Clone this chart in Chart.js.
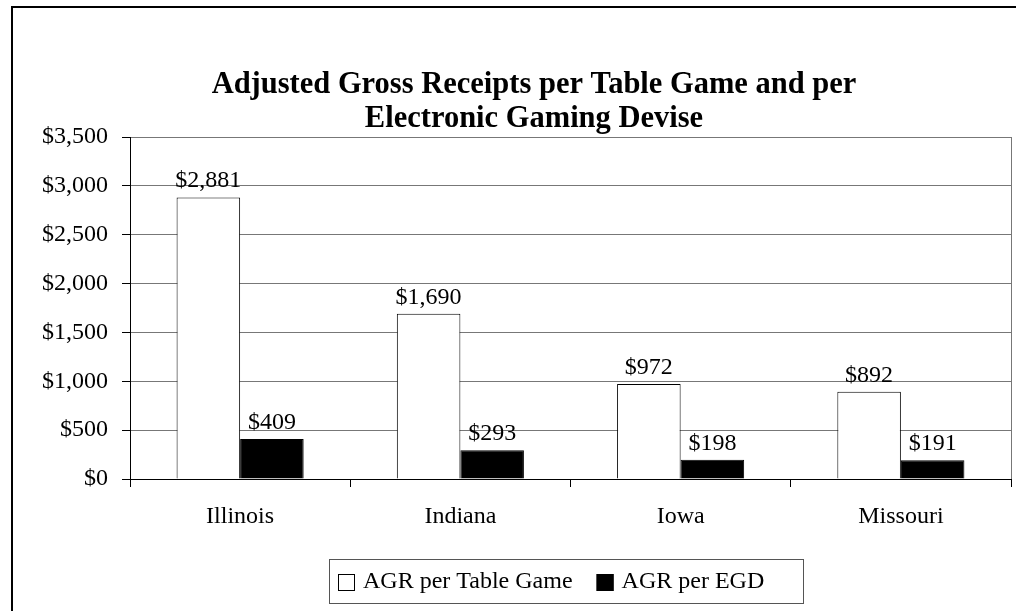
<!DOCTYPE html>
<html>
<head>
<meta charset="utf-8">
<script src="https://cdn.jsdelivr.net/npm/chart.js@4.4.1/dist/chart.umd.min.js"></script>
<style>
  html, body { margin: 0; padding: 0; background: #fff; }
  canvas { display: block; }
</style>
</head>
<body>
<canvas id="agrChart" width="1016" height="611"></canvas>
<script>
const states = ["Illinois", "Indiana", "Iowa", "Missouri"];
const perTableGame = [2881, 1690, 972, 892];
const perEGD = [409, 293, 198, 191];
const seriesNames = ["AGR per Table Game", "AGR per EGD"];
const titleLines = ["Adjusted Gross Receipts per Table Game and per", "Electronic Gaming Devise"];

const serif = "'Liberation Serif', 'Times New Roman', serif";

function money(v) {
  return "$" + v.toLocaleString("en-US");
}

const decorPlugin = {
  id: "decor",
  beforeDraw(chart) {
    const ctx = chart.ctx;
    ctx.save();
    ctx.fillStyle = "#fff";
    ctx.fillRect(0, 0, chart.width, chart.height);
    // outer frame
    ctx.strokeStyle = "#000";
    ctx.lineWidth = 2;
    ctx.strokeRect(12, 7, 1100, 700);
    ctx.restore();
  },
  afterDraw(chart) {
    const ctx = chart.ctx;
    const area = chart.chartArea;
    ctx.save();

    // right edge of plot area
    ctx.strokeStyle = "#777";
    ctx.lineWidth = 1;
    ctx.beginPath();
    ctx.moveTo(area.right + 0.5, area.top);
    ctx.lineTo(area.right + 0.5, area.bottom);
    ctx.stroke();

    // title
    ctx.fillStyle = "#000";
    ctx.font = "bold 30.5px " + serif;
    ctx.textAlign = "center";
    ctx.textBaseline = "middle";
    ctx.fillText(titleLines[0], 534, 85);
    ctx.fillText(titleLines[1], 534, 119);

    // value labels
    ctx.font = "24px " + serif;
    ctx.textBaseline = "alphabetic";
    chart.data.datasets.forEach((ds, i) => {
      const meta = chart.getDatasetMeta(i);
      meta.data.forEach((bar, j) => {
        ctx.fillText(money(ds.data[j]), bar.x, bar.y - 10);
      });
    });

    // legend box
    const box = { x: 329, y: 559, w: 474, h: 44 };
    ctx.strokeStyle = "#555";
    ctx.lineWidth = 1;
    ctx.strokeRect(box.x + 0.5, box.y + 0.5, box.w, box.h);
    ctx.font = "24px " + serif;
    ctx.textAlign = "left";
    ctx.textBaseline = "middle";
    const cy = box.y + box.h / 2 + 1;
    let x = box.x + 9;
    chart.data.datasets.forEach((ds, i) => {
      ctx.fillStyle = ds.backgroundColor;
      ctx.fillRect(x, cy - 8, 17, 17);
      ctx.strokeStyle = "#000";
      ctx.strokeRect(x + 0.5, cy - 7.5, 16, 16);
      ctx.fillStyle = "#000";
      ctx.fillText(ds.label, x + 25, cy);
      x += 25 + ctx.measureText(ds.label).width + 24;
    });

    ctx.restore();
  }
};

const chart = new Chart(document.getElementById("agrChart"), {
  type: "bar",
  data: {
    labels: states,
    datasets: [
      {
        label: seriesNames[0],
        data: perTableGame,
        backgroundColor: "#ffffff",
        borderColor: "#000000",
        borderWidth: 1,
      },
      {
        label: seriesNames[1],
        data: perEGD,
        backgroundColor: "#000000",
        borderColor: "#000000",
        borderWidth: 1,
      },
    ],
  },
  options: {
    responsive: false,
    animation: false,
    layout: {
      padding: { top: 137, right: 5, bottom: 72, left: 0 },
    },
    datasets: {
      bar: {
        barPercentage: 1,
        categoryPercentage: 0.577,
      },
    },
    plugins: {
      legend: { display: false },
      title: { display: false },
      tooltip: { enabled: false },
    },
    scales: {
      x: {
        offset: true,
        afterFit(scale) {
          scale.height = 60;
        },
        grid: {
          offset: true,
          drawOnChartArea: false,
          tickLength: 8,
          color: "#000",
        },
        border: { color: "#000", width: 1 },
        ticks: {
          color: "#000",
          padding: 15,
          font: { family: serif, size: 24 },
        },
      },
      y: {
        min: 0,
        max: 3500,
        afterFit(scale) {
          scale.width = 130;
        },
        grid: {
          color: "#777",
          tickColor: "#000",
          tickLength: 8,
        },
        border: { color: "#000", width: 1 },
        ticks: {
          stepSize: 500,
          color: "#000",
          padding: 14,
          font: { family: serif, size: 24 },
          callback: (v) => money(v),
        },
      },
    },
  },
  plugins: [decorPlugin],
});
</script>
</body>
</html>
